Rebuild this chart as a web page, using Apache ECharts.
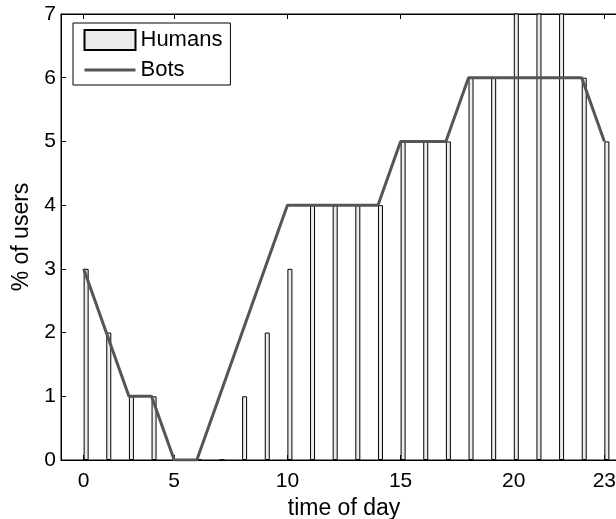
<!DOCTYPE html>
<html>
<head>
<meta charset="utf-8">
<script src="https://cdn.jsdelivr.net/npm/echarts@6/dist/echarts.min.js"></script>
<style>
  html, body { margin: 0; padding: 0; background: #fff; }
  #chart { width: 616px; height: 519px; }
</style>
</head>
<body>
<div id="chart"></div>
<script>
// hour slots (plotted at 1..24), values in % of users
var slots = [1, 2, 3, 4, 5, 6, 7, 8, 9, 10, 11, 12, 13, 14, 15, 16, 17, 18, 19, 20, 21, 22, 23, 24];
var humans = [3, 2, 1, 1, 0, 0, 0, 1, 2, 3, 4, 4, 4, 4, 5, 5, 5, 6, 6, 8, 8, 8, 6, 5];
var bots = [3, 2, 1, 1, 0, 0, 1, 2, 3, 4, 4, 4, 4, 4, 5, 5, 5, 6, 6, 6, 6, 6, 6, 5];
var tickValues = [1, 5, 10, 15, 20, 24];
var tickLabels = ['0', '5', '10', '15', '20', '23'];

var FONT = 'Liberation Sans';

function pairs(xs, ys) {
    var out = [];
    for (var i = 0; i < xs.length; i++) {
        out.push([xs[i], ys[i]]);
    }
    return out;
}

var chart = echarts.init(document.getElementById('chart'));

var option = {
    animation: false,
    backgroundColor: '#fff',
    textStyle: { fontFamily: FONT, color: '#000' },
    // plot box runs past the right edge of the picture (xlim 0..25)
    grid: {
        left: 61, width: 566, top: 14, bottom: 59,
        show: true, borderColor: '#000', borderWidth: 1,
        containLabel: false,
        outerBoundsMode: 'none'
    },
    legend: {
        orient: 'vertical',
        left: 73, top: 23,
        padding: [6, 8, 4, 10],
        itemWidth: 51, itemHeight: 20, itemGap: 8,
        borderColor: '#000', borderWidth: 1,
        backgroundColor: '#fff',
        textStyle: { fontFamily: FONT, fontSize: 22, color: '#000' },
        data: [
            { name: 'Humans', icon: 'rect' },
            { name: 'Bots', itemStyle: { opacity: 0 }, lineStyle: { color: '#555', width: 3, opacity: 1 } }
        ]
    },
    xAxis: [{
        type: 'value',
        min: 0, max: 25,
        name: 'time of day',
        nameLocation: 'middle',
        nameGap: 29,
        nameTextStyle: { fontFamily: FONT, fontSize: 23, color: '#000' },
        splitLine: { show: false },
        axisLine: { lineStyle: { color: '#000', width: 1 } },
        axisTick: { inside: true, length: 5, customValues: tickValues, lineStyle: { color: '#000' } },
        axisLabel: {
            margin: 11, fontSize: 21, color: '#000', fontFamily: FONT,
            customValues: tickValues,
            formatter: function (v) {
                var i = tickValues.indexOf(v);
                return i >= 0 ? tickLabels[i] : '';
            }
        }
    }, {
        type: 'value',
        position: 'top',
        min: 0, max: 25,
        splitLine: { show: false },
        axisLine: { lineStyle: { color: '#000', width: 1 } },
        axisTick: { inside: true, length: 5, customValues: tickValues, lineStyle: { color: '#000' } },
        axisLabel: { show: false }
    }],
    yAxis: {
        type: 'value',
        min: 0, max: 7, interval: 1,
        name: '% of users',
        nameLocation: 'middle',
        nameGap: 23,
        nameTextStyle: { fontFamily: FONT, fontSize: 23, color: '#000' },
        splitLine: { show: false },
        axisLine: { show: true, lineStyle: { color: '#000', width: 1 } },
        axisTick: { show: true, inside: true, length: 5, lineStyle: { color: '#000' } },
        axisLabel: { margin: 5, fontSize: 21, color: '#000', fontFamily: FONT }
    },
    series: [{
        // empty slot so the Humans bars sit just right of each hour, as in the original
        name: 'pad',
        type: 'bar',
        barWidth: 5,
        barGap: '0%',
        data: []
    }, {
        name: 'Humans',
        type: 'bar',
        barWidth: 5,
        barGap: '0%',
        clip: true,
        itemStyle: { color: '#ececec', borderColor: '#000', borderWidth: 1 },
        data: pairs(slots, humans)
    }, {
        name: 'Bots',
        type: 'line',
        symbol: 'none',
        clip: true,
        lineStyle: { color: '#555', width: 3 },
        itemStyle: { color: '#555' },
        data: pairs(slots, bots)
    }]
};

chart.setOption(option);
</script>
</body>
</html>
